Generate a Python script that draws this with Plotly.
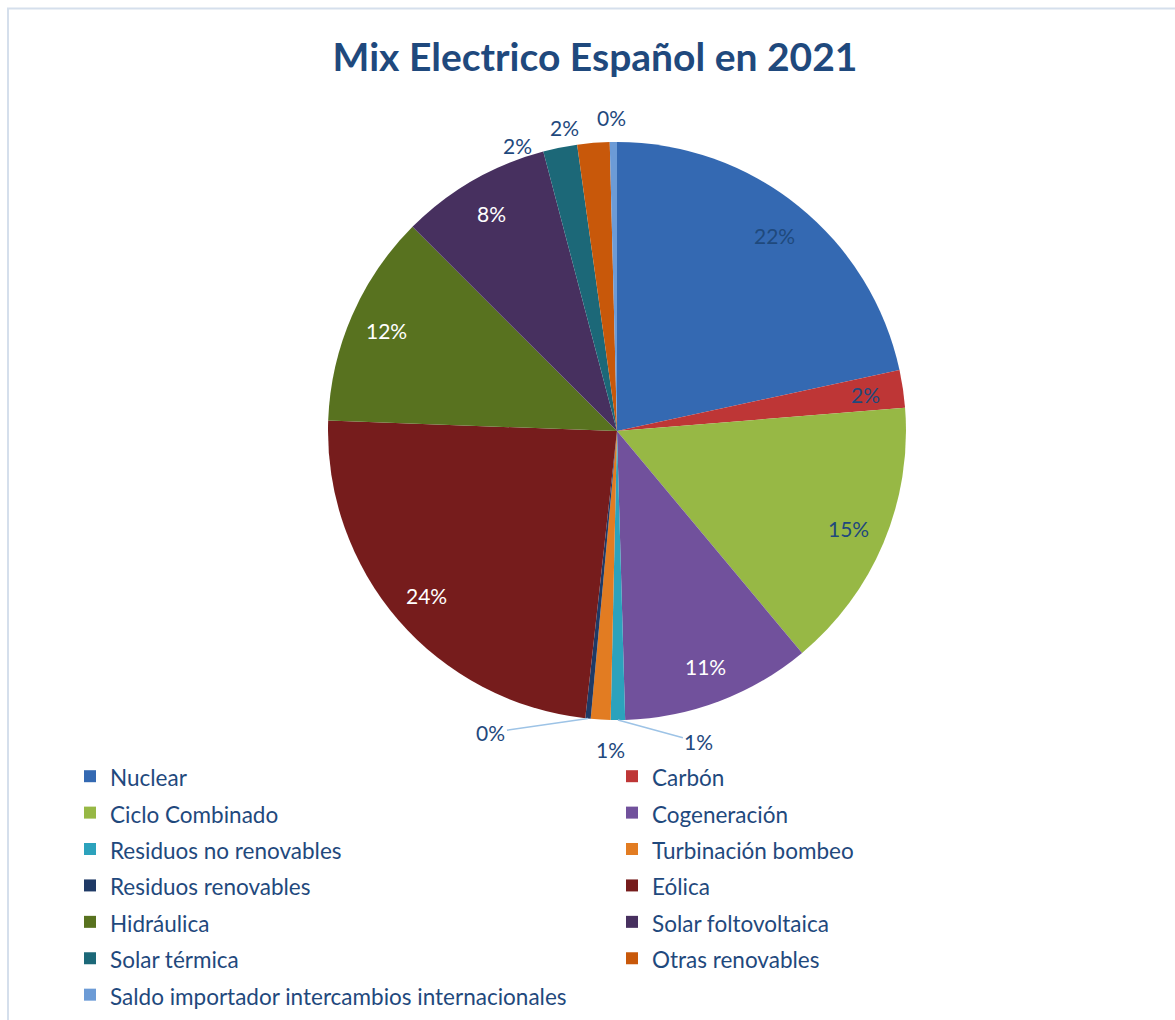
import math
import plotly.graph_objects as go

# Spanish electricity generation mix, 2021 (share of total, %)
sources = [
    "Nuclear", "Carbón", "Ciclo Combinado", "Cogeneración",
    "Residuos no renovables", "Turbinación bombeo", "Residuos renovables",
    "Eólica", "Hidráulica", "Solar foltovoltaica", "Solar térmica",
    "Otras renovables", "Saldo importador intercambios internacionales",
]
shares = [21.6, 2.1, 15.2, 10.6, 0.8, 1.1, 0.3, 23.8, 11.9, 8.4, 1.9, 1.8, 0.4]

colors = [
    "#3469B2", "#BE3636", "#97B845", "#71519C", "#2CA2BC", "#E27C22",
    "#1F3A66", "#761C1C", "#58721F", "#47305F", "#1C6878", "#C8580A",
    "#6C9BD6",
]
# percent label colour on each slice
label_colors = [
    "#1F497D", "#1F497D", "#1F497D", "white", "#1F497D", "#1F497D",
    "#1F497D", "white", "white", "white", "#1F497D", "#1F497D", "#1F497D",
]
# labels of thin slices sit outside the pie: pixel offset from the rim,
# and whether a leader line joins them to their slice
outside_labels = {
    "Residuos no renovables": (81, 22, True),
    "Turbinación bombeo": (10, 30, False),
    "Residuos renovables": (-97, 14, True),
    "Solar térmica": (-43, -2, False),
    "Otras renovables": (-29, -15, False),
    "Saldo importador intercambios internacionales": (-2, -25, False),
}

W, H = 1175, 1020
BLUE = "#1F497D"
FONT = "Lato, 'Open Sans', sans-serif"

# pie placement (pixels from the top-left corner of the page)
CX, CY, R = 617, 431, 289
dom_x = [(CX - R) / W, (CX + R) / W]
dom_y = [(H - CY - R) / H, (H - CY + R) / H]

# legend rows are taller than their text: the legend font sets the row
# height, the span sets the visible text size
legend_names = [f"<span style='font-size:22.5px'>{s}</span>" for s in sources]

fig = go.Figure(
    go.Pie(
        labels=legend_names,
        values=shares,
        sort=False,
        direction="clockwise",
        rotation=0,
        marker=dict(colors=colors, line=dict(width=0)),
        textinfo="none",
        hoverinfo="label+percent",
        domain=dict(x=dom_x, y=dom_y),
    )
)

# percent labels, placed from each slice's mid angle
total = sum(shares)
annotations = []
cum = 0.0
for name, val, col in zip(sources, shares, label_colors):
    theta = 2 * math.pi * (cum + val / 2) / total
    cum += val
    text = f"{round(100 * val / total)}%"
    font = dict(family=FONT, size=21, color=col)
    if name in outside_labels:
        dx, dy, leader = outside_labels[name]
        px = CX + R * math.sin(theta)
        py = CY - R * math.cos(theta)
        ann = dict(x=px / W, y=1 - py / H, xref="paper", yref="paper",
                   text=text, font=font, xanchor="center", yanchor="middle")
        if leader:
            ann.update(showarrow=True, ax=dx, ay=dy, arrowhead=0,
                       arrowwidth=1.5, arrowcolor="#9DC3E6", standoff=0)
        else:
            ann.update(showarrow=False, xshift=dx, yshift=-dy)
    else:
        px = CX + 0.87 * R * math.sin(theta)
        py = CY - 0.87 * R * math.cos(theta)
        ann = dict(x=px / W, y=1 - py / H, xref="paper", yref="paper",
                   text=text, font=font, showarrow=False,
                   xanchor="center", yanchor="middle")
    annotations.append(ann)

fig.update_layout(
    width=W,
    height=H,
    margin=dict(l=0, r=0, t=0, b=0, autoexpand=False),
    paper_bgcolor="white",
    font=dict(family=FONT, color=BLUE),
    title=dict(
        text="Mix Electrico Español en 2021",
        font=dict(family=FONT, size=39, color=BLUE, weight="bold"),
        x=595 / W,
        xanchor="center",
        y=1 - 57 / H,
        yanchor="middle",
    ),
    legend=dict(
        orientation="h",
        entrywidth=497,
        entrywidthmode="pixels",
        x=70 / W,
        xanchor="left",
        y=1 - 753 / H,
        yanchor="top",
        font=dict(family=FONT, size=25.7, color=BLUE),
        traceorder="normal",
    ),
    annotations=annotations,
    shapes=[
        dict(
            type="path",
            xref="paper", yref="paper",
            path=f"M {8 / W} 0 L {8 / W} {1 - 8.5 / H} L 1.2 {1 - 8.5 / H}",
            line=dict(color="#D5DFEC", width=2),
        )
    ],
)

fig.write_html("out.html")
